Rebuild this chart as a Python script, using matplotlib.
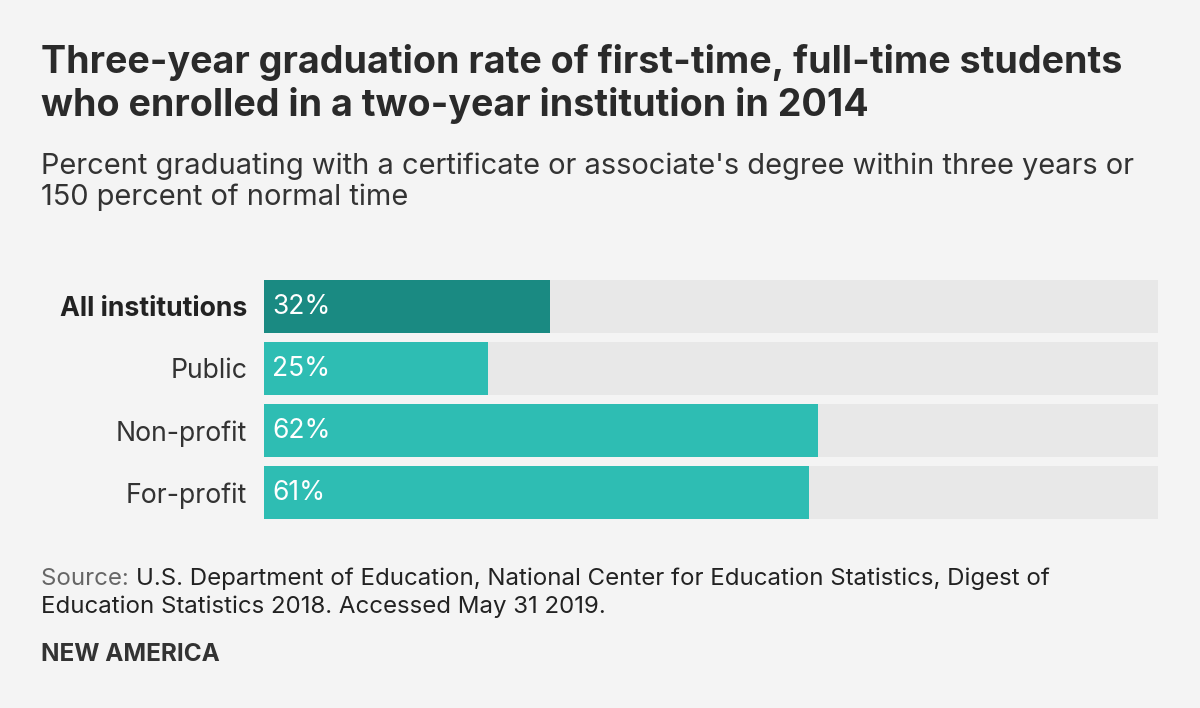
import matplotlib.pyplot as plt

# ===== 데이터 =====
categories = ["All institutions", "Public", "Non-profit", "For-profit"]
values = [32, 25, 62, 61]
track_max = 100

BG = "#f4f4f4"
TRACK = "#e8e8e8"
DARK_TEAL = "#1a8a82"
TEAL = "#2ebdb3"
TEXT = "#333333"

plt.rcParams["font.family"] = ["Inter", "DejaVu Sans"]

fig = plt.figure(figsize=(12, 7.08), dpi=100, facecolor=BG)
ax = fig.add_axes([264 / 1200, 1 - 519 / 708, (1158 - 264) / 1200, 239 / 708])
ax.set_facecolor(BG)

ypos = list(range(len(categories)))
h = 53 / 62
colors = [DARK_TEAL] + [TEAL] * (len(categories) - 1)
ax.barh(ypos, [track_max] * len(categories), height=h, color=TRACK, left=0)
ax.barh(ypos, values, height=h, color=colors)

for y, v in zip(ypos, values):
    ax.text(0.9, y, f"{v}%", va="center", ha="left", color="white", fontsize=19)

ax.set_xlim(0, track_max)
ax.set_ylim(len(categories) - 1 + h / 2, -h / 2)
ax.set_yticks(ypos)
ax.set_yticklabels(categories, fontsize=19.2, color=TEXT)
ax.get_yticklabels()[0].set_fontweight("bold")
ax.get_yticklabels()[0].set_color("#222222")
ax.tick_params(axis="y", length=0, pad=12)
ax.set_xticks([])
for s in ax.spines.values():
    s.set_visible(False)

# ===== 텍스트 =====
fig.text(41 / 1200, 1 - 44 / 708,
         "Three-year graduation rate of first-time, full-time students\nwho enrolled in a two-year institution in 2014",
         fontsize=27.1, fontweight="bold", color="#2a2a2a", va="top", ha="left", linespacing=1.22)
fig.text(41 / 1200, 1 - 153 / 708,
         "Percent graduating with a certificate or associate's degree within three years or\n150 percent of normal time",
         fontsize=20.9, color=TEXT, va="top", ha="left", linespacing=1.16)

src = fig.text(41 / 1200, 1 - 568 / 708, "Source: ", fontsize=17.3, color="#666666", va="top", ha="left")
fig.canvas.draw()
bb = src.get_window_extent()
fig.text(bb.x1 / 1200, 1 - 568 / 708,
         "U.S. Department of Education, National Center for Education Statistics, Digest of",
         fontsize=17.3, color="#222222", va="top", ha="left")
fig.text(41 / 1200, 1 - 596 / 708, "Education Statistics 2018. Accessed May 31 2019.",
         fontsize=17.3, color="#222222", va="top", ha="left")
fig.text(41 / 1200, 1 - 643 / 708, "NEW AMERICA", fontsize=17.5, fontweight="bold",
         color="#333333", va="top", ha="left")

fig.savefig("out.png", dpi=100, facecolor=BG)
